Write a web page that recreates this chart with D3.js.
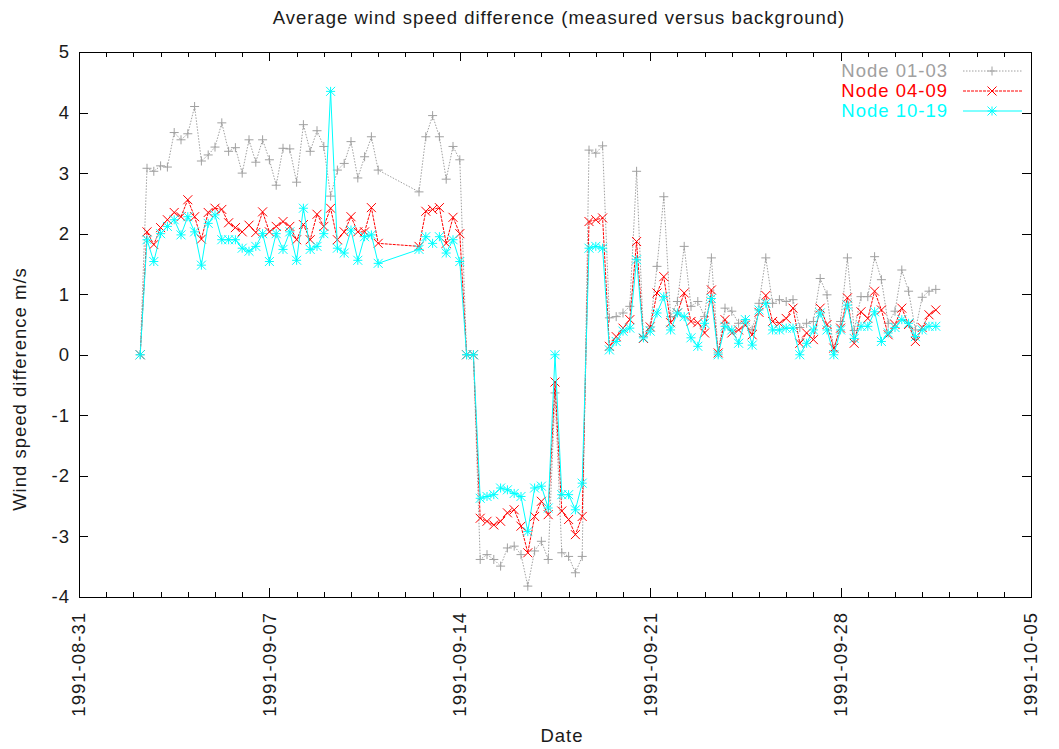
<!DOCTYPE html>
<html>
<head>
<meta charset="utf-8">
<script src="https://cdn.jsdelivr.net/npm/d3@7"></script>
<style>
  body { margin: 0; background: #fff; }
  svg text { font-family: "Liberation Sans", Arial, Helvetica, sans-serif; }
</style>
</head>
<body>
<svg id="chart" width="1059" height="749"></svg>
<script>
// Six-hourly timestamps (UTC), 1991; a gap on 11-12 September
const timestamps = [
  "09-02 06","09-02 12","09-02 18",
  "09-03 00","09-03 06","09-03 12","09-03 18",
  "09-04 00","09-04 06","09-04 12","09-04 18",
  "09-05 00","09-05 06","09-05 12","09-05 18",
  "09-06 00","09-06 06","09-06 12","09-06 18",
  "09-07 00","09-07 06","09-07 12","09-07 18",
  "09-08 00","09-08 06","09-08 12","09-08 18",
  "09-09 00","09-09 06","09-09 12","09-09 18",
  "09-10 00","09-10 06","09-10 12","09-10 18",
  "09-11 00",
  "09-12 12","09-12 18",
  "09-13 00","09-13 06","09-13 12","09-13 18",
  "09-14 00","09-14 06","09-14 12","09-14 18",
  "09-15 00","09-15 06","09-15 12","09-15 18",
  "09-16 00","09-16 06","09-16 12","09-16 18",
  "09-17 00","09-17 06","09-17 12","09-17 18",
  "09-18 00","09-18 06","09-18 12","09-18 18",
  "09-19 00","09-19 06","09-19 12","09-19 18",
  "09-20 00","09-20 06","09-20 12","09-20 18",
  "09-21 00","09-21 06","09-21 12","09-21 18",
  "09-22 00","09-22 06","09-22 12","09-22 18",
  "09-23 00","09-23 06","09-23 12","09-23 18",
  "09-24 00","09-24 06","09-24 12","09-24 18",
  "09-25 00","09-25 06","09-25 12","09-25 18",
  "09-26 00","09-26 06","09-26 12","09-26 18",
  "09-27 00","09-27 06","09-27 12","09-27 18",
  "09-28 00","09-28 06","09-28 12","09-28 18",
  "09-29 00","09-29 06","09-29 12","09-29 18",
  "09-30 00","09-30 06","09-30 12","09-30 18",
  "10-01 00","10-01 06","10-01 12"
];

// Average wind speed difference (m/s), one value per timestamp
const node0103 = [
  0, 3.08, 3.03,
  3.12, 3.10, 3.67, 3.55,
  3.65, 4.10, 3.20, 3.30,
  3.43, 3.83, 3.36, 3.42,
  3.00, 3.55, 3.18, 3.55,
  3.22, 2.80, 3.41, 3.40,
  2.85, 3.80, 3.36, 3.70,
  3.44, 2.62, 3.05, 3.16,
  3.52, 2.92, 3.27, 3.60,
  3.05,
  2.69, 3.60,
  3.95, 3.60, 2.90, 3.44,
  3.22, 0, 0, -3.38,
  -3.30, -3.38, -3.49, -3.19,
  -3.16, -3.30, -3.82, -3.24,
  -3.08, -3.38, -0.63, -3.27,
  -3.33, -3.60, -3.33, 3.38,
  3.33, 3.45, 0.61, 0.63,
  0.69, 0.80, 3.03, 0.30,
  0.46, 1.46, 2.61, 0.63,
  0.88, 1.79, 0.80, 0.88,
  0.63, 1.60, 0.03, 0.77,
  0.72, 0.52, 0.58, 0.41,
  0.85, 1.60, 0.85, 0.91,
  0.88, 0.91, 0.45, 0.52,
  0.55, 1.26, 0.99, 0.06,
  0.55, 1.60, 0.40, 0.96,
  0.96, 1.62, 1.24, 0.52,
  0.72, 1.40, 1.05, 0.41,
  0.95, 1.05, 1.08
];

const node0409 = [
  0, 2.03, 1.82,
  2.10, 2.23, 2.35, 2.28,
  2.56, 2.28, 1.91, 2.35,
  2.42, 2.40, 2.18, 2.10,
  2.03, 2.14, 2.02, 2.36,
  2.03, 2.12, 2.20, 2.12,
  1.90, 2.15, 1.90, 2.32,
  2.12, 2.42, 1.90, 2.03,
  2.28, 2.03, 2.03, 2.43,
  1.84,
  1.79, 2.37,
  2.40, 2.43, 1.84, 2.27,
  2.00, 0, 0, -2.70,
  -2.75, -2.81, -2.75, -2.61,
  -2.56, -2.83, -3.27, -2.67,
  -2.42, -2.64, -0.45, -2.58,
  -2.72, -2.97, -2.67, 2.20,
  2.23, 2.26, 0.14, 0.30,
  0.44, 0.58, 1.87, 0.27,
  0.46, 1.02, 1.29, 0.53,
  0.69, 1.02, 0.55, 0.53,
  0.36, 1.07, 0.03, 0.58,
  0.36, 0.41, 0.49, 0.33,
  0.70, 0.98, 0.55, 0.52,
  0.60, 0.77, 0.19, 0.36,
  0.25, 0.77, 0.50, 0.11,
  0.44, 0.94, 0.19, 0.71,
  0.60, 1.05, 0.74, 0.33,
  0.50, 0.77, 0.50, 0.22,
  0.45, 0.66, 0.74
];

const node1019 = [
  0, 1.90, 1.54,
  2.00, 2.12, 2.23, 1.98,
  2.28, 2.03, 1.48, 2.17,
  2.31, 1.90, 1.90, 1.90,
  1.76, 1.71, 1.79, 2.00,
  1.54, 2.00, 1.74, 2.03,
  1.56, 2.42, 1.74, 1.79,
  2.00, 4.35, 1.76, 1.68,
  2.06, 1.56, 1.95, 1.98,
  1.51,
  1.74, 1.95,
  1.84, 1.95, 1.68, 1.90,
  1.54, 0, 0, -2.37,
  -2.34, -2.31, -2.20, -2.23,
  -2.29, -2.34, -2.92, -2.20,
  -2.17, -2.53, 0, -2.31,
  -2.31, -2.56, -2.12, 1.76,
  1.79, 1.76, 0.08, 0.22,
  0.39, 0.44, 1.57, 0.28,
  0.39, 0.69, 0.96, 0.41,
  0.69, 0.63, 0.28, 0.14,
  0.52, 0.93, 0.00, 0.47,
  0.41, 0.19, 0.58, 0.16,
  0.74, 0.85, 0.41, 0.41,
  0.44, 0.44, 0.00, 0.19,
  0.41, 0.69, 0.41, 0.00,
  0.41, 0.82, 0.27, 0.47,
  0.47, 0.71, 0.22, 0.36,
  0.45, 0.58, 0.52, 0.30,
  0.41, 0.47, 0.47
];

const seriesNames = ["Node 01-03", "Node 04-09", "Node 10-19"];
const seriesColors = ["#a0a0a0", "#ff0000", "#00ffff"];
const yTicks = [-4, -3, -2, -1, 0, 1, 2, 3, 4, 5];
const xTickLabels = ["1991-08-31", "1991-09-07", "1991-09-14", "1991-09-21", "1991-09-28", "1991-10-05"];

const chartTitle = "Average wind speed difference (measured versus background)";
const xTitle = "Date";
const yTitle = "Wind speed difference m/s";

// ---- layout ----
const plot = { left: 79, right: 1031, top: 52, bottom: 597 };

const parseStamp = d3.utcParse("%Y-%m-%d %H");
const parseDay = d3.utcParse("%Y-%m-%d");
const times = timestamps.map(s => parseStamp("1991-" + s));

const x = d3.scaleUtc()
  .domain([parseDay(xTickLabels[0]), parseDay(xTickLabels[xTickLabels.length - 1])])
  .range([plot.left, plot.right]);
const y = d3.scaleLinear()
  .domain([d3.min(yTicks), d3.max(yTicks)])
  .range([plot.bottom, plot.top]);

const svg = d3.select("#chart");
const fontSize = 18.5;
const spacing = "1px";
const ink = "#1a1a1a";

// ---- frame and ticks ----
const g = svg.append("g").attr("shape-rendering", "crispEdges");
g.append("rect")
  .attr("x", plot.left).attr("y", plot.top)
  .attr("width", plot.right - plot.left).attr("height", plot.bottom - plot.top)
  .attr("fill", "none").attr("stroke", "#000").attr("stroke-width", 1);

const days = d3.utcDay.range(x.domain()[0], d3.utcDay.offset(x.domain()[1], 1));
const majorDays = xTickLabels.map(parseDay);
const isMajor = d => majorDays.some(m => +m === +d);

days.forEach(d => {
  const len = isMajor(d) ? 9 : 5;
  const px = Math.round(x(d)) + 0.5;
  g.append("line").attr("x1", px).attr("x2", px)
    .attr("y1", plot.bottom).attr("y2", plot.bottom - len)
    .attr("stroke", "#000");
  g.append("line").attr("x1", px).attr("x2", px)
    .attr("y1", plot.top).attr("y2", plot.top + len)
    .attr("stroke", "#000");
});

yTicks.forEach(v => {
  const py = Math.round(y(v)) + 0.5;
  g.append("line").attr("x1", plot.left).attr("x2", plot.left + 9)
    .attr("y1", py).attr("y2", py).attr("stroke", "#000");
  g.append("line").attr("x1", plot.right).attr("x2", plot.right - 9)
    .attr("y1", py).attr("y2", py).attr("stroke", "#000");
});

// ---- tick labels ----
svg.append("g").selectAll("text").data(yTicks).join("text")
  .attr("x", plot.left - 9)
  .attr("y", d => y(d))
  .attr("dy", "0.35em")
  .attr("text-anchor", "end")
  .attr("font-size", fontSize)
  .attr("letter-spacing", spacing)
  .attr("fill", ink)
  .text(d => d);

svg.append("g").selectAll("text").data(xTickLabels).join("text")
  .attr("transform", d => `translate(${x(parseDay(d))},${plot.bottom + 15}) rotate(-90)`)
  .attr("dy", "0.35em")
  .attr("text-anchor", "end")
  .attr("font-size", fontSize)
  .attr("letter-spacing", spacing)
  .attr("fill", ink)
  .text(d => d);

// ---- titles ----
svg.append("text")
  .attr("x", 559).attr("y", 24)
  .attr("text-anchor", "middle")
  .attr("font-size", fontSize).attr("letter-spacing", spacing)
  .attr("fill", ink)
  .text(chartTitle);

svg.append("text")
  .attr("x", 562).attr("y", 742)
  .attr("text-anchor", "middle")
  .attr("font-size", fontSize).attr("letter-spacing", spacing)
  .attr("fill", ink)
  .text(xTitle);

svg.append("text")
  .attr("transform", `translate(26,389) rotate(-90)`)
  .attr("text-anchor", "middle")
  .attr("font-size", fontSize).attr("letter-spacing", spacing)
  .attr("fill", ink)
  .text(yTitle);

// ---- markers ----
const r = 4.5;
const markerPaths = [
  `M${-r},0H${r}M0,${-r}V${r}`,                                        // plus
  `M${-r},${-r}L${r},${r}M${-r},${r}L${r},${-r}`,                      // cross
  `M${-r},0H${r}M0,${-r}V${r}M${-r},${-r}L${r},${r}M${-r},${r}L${r},${-r}` // star
];
const dashes = ["1.5,1.5", "3,1", null];

// ---- series ----
const seriesValues = [node0103, node0409, node1019];

seriesValues.forEach((vals, k) => {
  const pts = vals.map((v, i) => ({ t: times[i], v }));
  const line = d3.line().x(d => x(d.t)).y(d => y(d.v));
  const sg = svg.append("g");
  sg.append("path")
    .attr("d", line(pts))
    .attr("fill", "none")
    .attr("stroke", seriesColors[k])
    .attr("stroke-width", 1)
    .attr("stroke-dasharray", dashes[k]);
  sg.selectAll("path.m").data(pts).join("path")
    .attr("class", "m")
    .attr("transform", d => `translate(${x(d.t)},${y(d.v)})`)
    .attr("d", markerPaths[k])
    .attr("fill", "none")
    .attr("stroke", seriesColors[k])
    .attr("stroke-width", 1);
});

// ---- legend ----
const legend = svg.append("g");
const legendRows = [71, 91, 111];
seriesNames.forEach((name, k) => {
  const ly = legendRows[k];
  legend.append("text")
    .attr("x", 948).attr("y", ly).attr("dy", "0.35em")
    .attr("text-anchor", "end")
    .attr("font-size", fontSize).attr("letter-spacing", spacing)
    .attr("fill", seriesColors[k])
    .text(name);
  legend.append("line")
    .attr("x1", 963).attr("x2", 1022).attr("y1", ly).attr("y2", ly)
    .attr("stroke", seriesColors[k]).attr("stroke-width", 1)
    .attr("stroke-dasharray", dashes[k]);
  legend.append("path")
    .attr("transform", `translate(992,${ly})`)
    .attr("d", markerPaths[k])
    .attr("fill", "none").attr("stroke", seriesColors[k]).attr("stroke-width", 1);
});
</script>
</body>
</html>
